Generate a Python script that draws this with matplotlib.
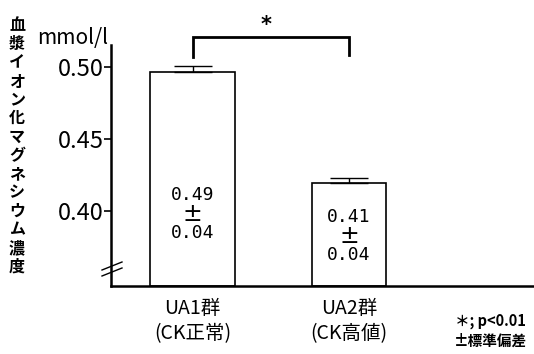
import matplotlib
matplotlib.use("Agg")
import matplotlib.pyplot as plt
from matplotlib.lines import Line2D

plt.rcParams['font.family'] = ['Noto Sans CJK JP', 'DejaVu Sans']

groups = ["UA1群\n(CK正常)", "UA2群\n(CK高値)"]
bar_values = [0.4965, 0.4194]
bar_err = [0.004, 0.0035]
mean_labels = ["0.49", "0.41"]
sd_labels = ["0.04", "0.04"]
yticks = [0.40, 0.45, 0.50]
ytick_labels = ["0.40", "0.45", "0.50"]
ylabel_text = "血漿イオン化マグネシウム濃度"
unit_text = "mmol/l"
footnote = "＊; p<0.01\n±標準偏差"

W, H = 534, 354
fig = plt.figure(figsize=(W / 100, H / 100), dpi=100)
left, right, bottom, top = 111, 534, 286, 45
ax = fig.add_axes([left / W, 1 - bottom / H, (right - left) / W, (bottom - top) / H])

ymin = 0.5 - (bottom - 67) / 1440
ymax = 0.5 + (67 - top) / 1440
ax.set_ylim(ymin, ymax)
ax.set_xlim(-0.521, 2.182)

def ypix(p):
    return 0.5 - (p - 67) / 1440

x = [0, 1]
widths = [0.543, 0.473]
ax.bar(x, [v - ymin for v in bar_values], bottom=ymin, width=widths,
       color='white', edgecolor='black', linewidth=1.2, zorder=2)
ax.errorbar(x, bar_values, yerr=[[0, 0], bar_err], fmt='none', ecolor='black',
            elinewidth=1.0, capsize=14, capthick=1.0, zorder=3)

text_centers = [214, 236]
for i in range(2):
    c = text_centers[i]
    ax.text(x[i], ypix(c - 19), mean_labels[i], ha='center', va='center',
            fontsize=13, family=['DejaVu Sans Mono'])
    ax.text(x[i], ypix(c), "±", ha='center', va='center',
            fontsize=17, family=['DejaVu Sans'])
    ax.text(x[i], ypix(c + 19), sd_labels[i], ha='center', va='center',
            fontsize=13, family=['DejaVu Sans Mono'])

for s in ['top', 'right']:
    ax.spines[s].set_visible(False)
ax.spines['left'].set_linewidth(1.8)
ax.spines['bottom'].set_linewidth(1.8)

ax.set_yticks(yticks)
ax.set_yticklabels(ytick_labels, fontsize=17)
ax.tick_params(axis='y', length=5, width=1.2, pad=0)
ax.set_xticks(x)
ax.set_xticklabels(groups, fontsize=14, linespacing=1.2)
ax.tick_params(axis='x', length=0, pad=9)

# significance bracket
yb_top = ypix(37)
yb_l = ypix(57)
yb_r = ypix(55)
ax.plot([x[0], x[0], x[1], x[1]], [yb_l, yb_top, yb_top, yb_r], color='black',
        lw=2.0, clip_on=False, solid_joinstyle='miter')
ax.text(0.47, ypix(25), "*", ha='center', va='center', fontsize=15,
        fontweight='bold', family=['DejaVu Sans'], clip_on=False)

# axis break marks
for dy in [0, 6]:
    fig.add_artist(Line2D([102 / W, 122 / W], [1 - (270 + dy) / H, 1 - (262 + dy) / H],
                          color='black', lw=1.0))

fig.text(73 / W, 1 - 38 / H, unit_text, ha='center', va='center', fontsize=15)
fig.text(17 / W, 1 - 146 / H, "\n".join(ylabel_text), ha='center', va='center',
         fontsize=11.5, fontweight='bold', linespacing=1.2)
fig.text(490 / W, 1 - 331 / H, footnote, ha='center', va='center', fontsize=10.5,
         fontweight='bold', linespacing=1.3)

fig.savefig("out.png", dpi=100)
